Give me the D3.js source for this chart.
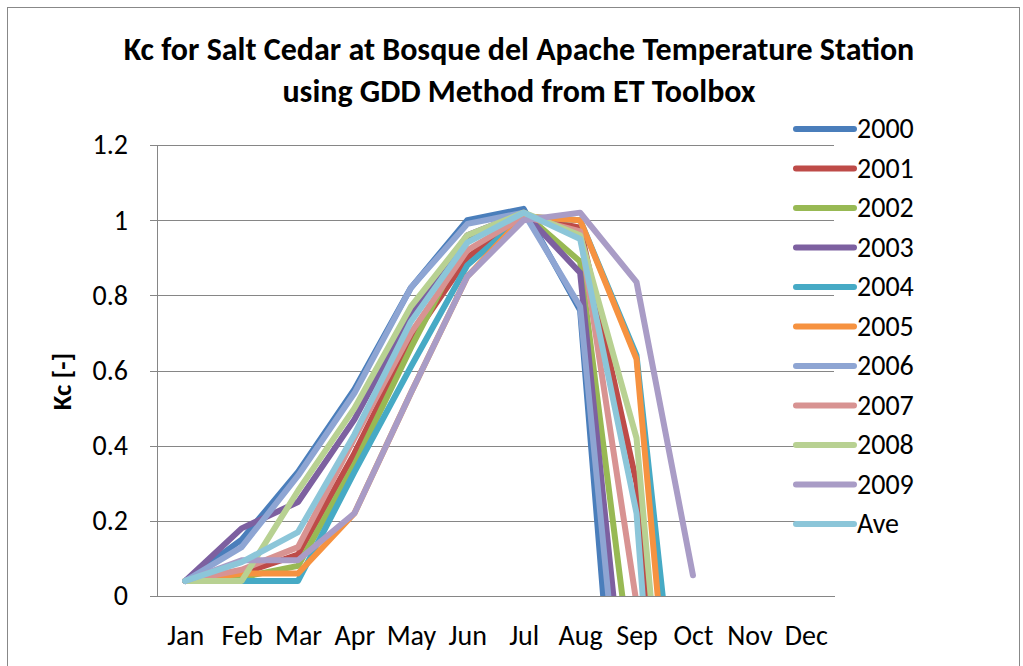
<!DOCTYPE html>
<html>
<head>
<meta charset="utf-8">
<script src="https://cdn.jsdelivr.net/npm/d3@7"></script>
<style>
  body { margin: 0; background: #fff; }
  text { font-family: Carlito, Calibri, Lato, sans-serif; fill: #000; }
</style>
</head>
<body>
<svg id="chart" width="1023" height="666"></svg>
<script>
// data (values below 0 are clipped by the plot area)
const months = ["Jan", "Feb", "Mar", "Apr", "May", "Jun", "Jul", "Aug", "Sep", "Oct", "Nov", "Dec"];
const yTicks = [0, 0.2, 0.4, 0.6, 0.8, 1, 1.2];
const seriesNames = ["2000", "2001", "2002", "2003", "2004", "2005", "2006", "2007", "2008", "2009", "Ave"];

const kc2000 = [0.04, 0.15, 0.33, 0.55, 0.82, 1.00, 1.03, 0.76, -1.10, null, null, null];
const kc2001 = [0.04, 0.06, 0.11, 0.38, 0.68, 0.90, 1.01, 0.98, 0.30, -1.50, null, null];
const kc2002 = [0.04, 0.05, 0.08, 0.35, 0.66, 0.95, 1.02, 0.89, -0.30, null, null, null];
const kc2003 = [0.04, 0.18, 0.25, 0.47, 0.75, 0.96, 1.02, 0.86, -0.60, null, null, null];
const kc2004 = [0.04, 0.04, 0.04, 0.33, 0.61, 0.88, 1.01, 1.00, 0.64, -0.74, null, null];
const kc2005 = [0.04, 0.06, 0.06, 0.22, 0.54, 0.85, 1.01, 1.00, 0.63, -1.05, null, null];
const kc2006 = [0.04, 0.13, 0.32, 0.54, 0.82, 0.99, 1.02, 0.77, -0.77, null, null, null];
const kc2007 = [0.04, 0.07, 0.13, 0.42, 0.70, 0.92, 1.01, 0.97, -0.02, -1.50, null, null];
const kc2008 = [0.04, 0.04, 0.28, 0.50, 0.77, 0.96, 1.02, 0.96, 0.42, -1.26, null, null];
const kc2009 = [0.04, 0.095, 0.095, 0.22, 0.54, 0.85, 1.00, 1.02, 0.835, 0.055, null, null];
const kcAve  = [0.04, 0.09, 0.17, 0.43, 0.73, 0.94, 1.02, 0.95, 0.22, -1.80, null, null];

const seriesValues = [kc2000, kc2001, kc2002, kc2003, kc2004, kc2005, kc2006, kc2007, kc2008, kc2009, kcAve];
const colors = ["#4a7ebb", "#be4b48", "#98b954", "#7d60a0", "#46aac5", "#f69240",
                "#8ea5d3", "#d89392", "#b8d192", "#a99cc6", "#8cc6d9"];

const svg = d3.select("#chart");
const margin = { top: 145, right: 189, bottom: 70, left: 157 };
const width = 1023, height = 666;

// outer chart border
svg.append("rect")
  .attr("x", 7.5).attr("y", 7.5)
  .attr("width", 1012).attr("height", 670)
  .attr("fill", "#fff")
  .attr("stroke", "#888")
  .attr("stroke-width", 1);

const x = d3.scalePoint()
  .domain(months)
  .range([margin.left, width - margin.right])
  .padding(0.5);

const y = d3.scaleLinear()
  .domain([0, 1.2])
  .range([height - margin.bottom, margin.top]);

// gridlines + y axis
const yAxis = svg.append("g")
  .attr("transform", "translate(" + margin.left + ",0)")
  .call(d3.axisLeft(y)
    .tickValues(yTicks)
    .tickFormat(d => String(d))
    .tickSizeInner(-(width - margin.right - margin.left))
    .tickSizeOuter(0)
    .tickPadding(29));
yAxis.select(".domain").attr("stroke", "#868686");
yAxis.selectAll(".tick line").attr("stroke", "#868686").attr("shape-rendering", "crispEdges");
yAxis.selectAll(".tick text").style("font-size", "28px").attr("fill", "#000");
// small outside tick marks
yAxis.selectAll(".tick").append("line")
  .attr("x1", -7).attr("x2", 0)
  .attr("stroke", "#868686").attr("shape-rendering", "crispEdges");

// x axis
const xAxis = svg.append("g")
  .attr("transform", "translate(0," + y(0) + ")")
  .call(d3.axisBottom(x).tickSize(0).tickPadding(29));
xAxis.select(".domain").attr("stroke", "#868686").attr("shape-rendering", "crispEdges");
xAxis.selectAll(".tick text").style("font-size", "28px").attr("fill", "#000");

// clip the lines to the plot area like Excel does
svg.append("clipPath").attr("id", "plotClip")
  .append("rect")
  .attr("x", margin.left)
  .attr("y", margin.top - 10)
  .attr("width", width - margin.right - margin.left)
  .attr("height", y(0) - margin.top + 10);

const line = d3.line()
  .defined(d => d != null)
  .x((d, i) => x(months[i]))
  .y(d => y(d));

svg.append("g")
  .attr("clip-path", "url(#plotClip)")
  .selectAll("path")
  .data(seriesValues)
  .join("path")
  .attr("d", d => line(d))
  .attr("fill", "none")
  .attr("stroke", (d, i) => colors[i])
  .attr("stroke-width", 6)
  .attr("stroke-linejoin", "round")
  .attr("stroke-linecap", "round");

// legend
const legend = svg.append("g").attr("transform", "translate(796,129)");
const item = legend.selectAll("g")
  .data(seriesNames)
  .join("g")
  .attr("transform", (d, i) => "translate(0," + (i * 39.5) + ")");
item.append("line")
  .attr("x1", 0).attr("x2", 58)
  .attr("stroke", (d, i) => colors[i])
  .attr("stroke-width", 6)
  .attr("stroke-linecap", "round");
item.append("text")
  .attr("x", 61)
  .attr("dy", "0.33em")
  .style("font-size", "28px")
  .text(d => d);

// titles
const title = svg.append("g");
title.append("text")
  .attr("x", 519).attr("y", 60)
  .attr("text-anchor", "middle")
  .style("font-size", "32px")
  .style("font-weight", "bold")
  .text("Kc for Salt Cedar at Bosque del Apache Temperature Station");
title.append("text")
  .attr("x", 519).attr("y", 102)
  .attr("text-anchor", "middle")
  .style("font-size", "32px")
  .style("font-weight", "bold")
  .text("using GDD Method from ET Toolbox");

svg.append("text")
  .attr("transform", "translate(71," + ((y(0) + y(1.2)) / 2 + 11) + ") rotate(-90)")
  .attr("text-anchor", "middle")
  .style("font-size", "27px")
  .style("font-weight", "bold")
  .text("Kc [-]");
</script>
</body>
</html>
